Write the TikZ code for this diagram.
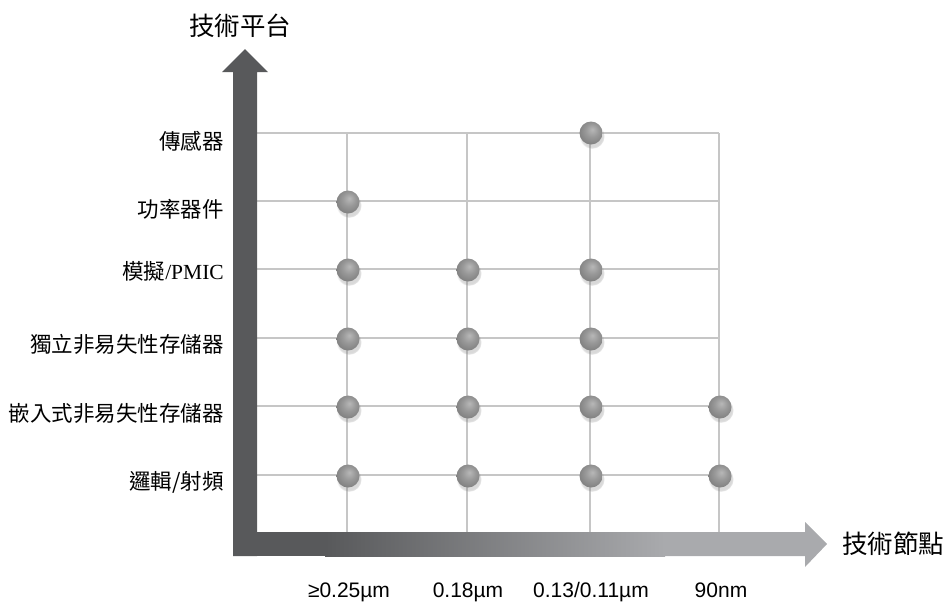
\documentclass[tikz,border=0pt]{standalone}
\usepackage{fontspec}
\setmainfont{Liberation Sans}
\newfontfamily\cjk{Noto Sans CJK TC}
\newfontfamily\latinserif{Liberation Serif}
\usetikzlibrary{positioning,shadows}
\definecolor{axisdark}{HTML}{58595B}
\definecolor{axislight}{HTML}{A9AAAD}
\definecolor{gridgray}{HTML}{C6C6C6}
\pgfdeclareradialshading{dotball}{\pgfpoint{3bp}{8bp}}{%
  color(0bp)=(black!28); color(14bp)=(black!40); color(32bp)=(black!52);
  color(44bp)=(black!62); color(50bp)=(black!62)}
\tikzset{
  rowlabel/.style={anchor=east, inner sep=0pt, font=\cjk\fontsize{21.5}{26}\selectfont},
  nodelabel/.style={anchor=base, inner sep=0pt, font=\fontsize{21}{25}\selectfont},
  axistitle/.style={inner sep=0pt, font=\cjk\fontsize{25.5}{30}\selectfont},
  dot/.style={circle, minimum size=23pt, inner sep=0pt, shading=dotball,
    circular drop shadow={shadow xshift=1pt, shadow yshift=-3pt, opacity=0.3}},
  gridline/.style={draw=gridgray, line width=1.5pt}
}
\begin{document}
\begin{tikzpicture}[x=1pt,y=-1pt]
\useasboundingbox (0,0) rectangle (948,603);

% grid
\foreach \y in {133,201,269,338,406,475}
  \draw[gridline] (257,\y) -- (719,\y);
\foreach \x in {347,467,590,719}
  \draw[gridline] (\x,133) -- (\x,532);

% x axis
\fill[axisdark] (233,532) rectangle (326,556);
\shade[left color=axisdark, right color=axislight] (325,532) rectangle (665,556);
\fill[axislight] (664,532) -- (805,532) -- (805,522) -- (827,544) -- (805,567) -- (805,556) -- (664,556) -- cycle;

% y axis
\fill[axisdark] (233,556) -- (233,72) -- (222,72) -- (245,49) -- (268,72) -- (257,72) -- (257,556) -- cycle;

\node[axistitle] (ytitle) at (240,26) {技術平台};
\node[axistitle, anchor=west] (xtitle) at (842,544) {技術節點};

% rows
\node[rowlabel] (sensor) at (224,141) {傳感器};
\node[rowlabel] (power) at (224,209) {功率器件};
\node[rowlabel] (analog) at (224,271) {模擬{\latinserif/PMIC}};
\node[rowlabel] (standalone) at (224,344) {獨立非易失性存儲器};
\node[rowlabel] (embedded) at (224,413) {嵌入式非易失性存儲器};
\node[rowlabel] (logic) at (224,482) {邏輯/射頻};

% columns
\node[nodelabel] (n025) at (349,597) {≥0.25µm};
\node[nodelabel] (n018) at (468,597) {0.18µm};
\node[nodelabel] (n013) at (591,597) {0.13/0.11µm};
\node[nodelabel] (n90) at (721,597) {90nm};

% dots
\node[dot] (sensor-013) at (591,133) {};
\node[dot] (power-025) at (348,202) {};
\node[dot] (analog-025) at (348,270) {};
\node[dot] (analog-018) at (468,270) {};
\node[dot] (analog-013) at (591,270) {};
\node[dot] (standalone-025) at (348,339) {};
\node[dot] (standalone-018) at (468,339) {};
\node[dot] (standalone-013) at (591,339) {};
\node[dot] (embedded-025) at (348,407) {};
\node[dot] (embedded-018) at (468,407) {};
\node[dot] (embedded-013) at (591,407) {};
\node[dot] (embedded-90) at (720,407) {};
\node[dot] (logic-025) at (348,476) {};
\node[dot] (logic-018) at (468,476) {};
\node[dot] (logic-013) at (591,476) {};
\node[dot] (logic-90) at (720,476) {};

\end{tikzpicture}
\end{document}
